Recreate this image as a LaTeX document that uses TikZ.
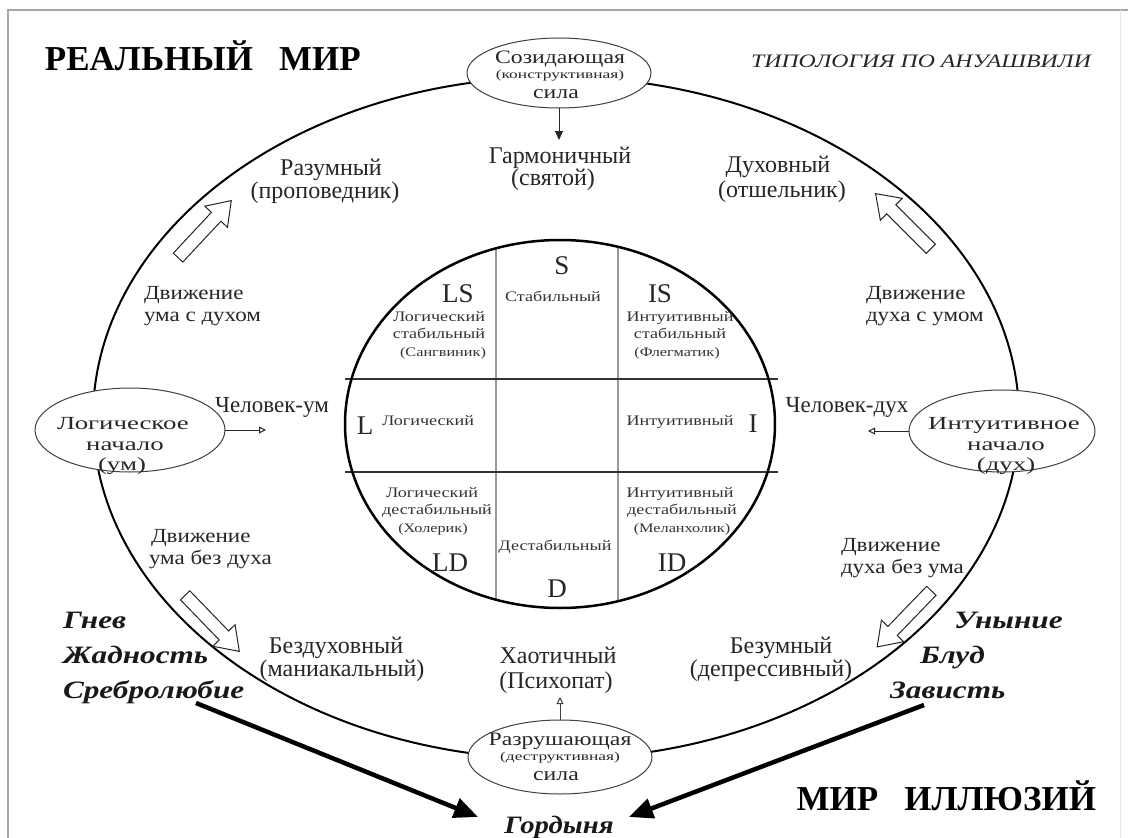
\documentclass[tikz,border=0pt]{standalone}
\usepackage{fontspec}
\setmainfont{Liberation Serif}
\newfontfamily\wa[FakeStretch=1.15]{Liberation Serif}
\newfontfamily\wb[FakeStretch=1.25]{Liberation Serif}
\newfontfamily\wc[FakeStretch=1.45]{Liberation Serif}
\usetikzlibrary{shapes.geometric,shapes.arrows,arrows.meta}
\newcommand\fsz[1]{\fontsize{#1}{#1}\selectfont}
\begin{document}
\begin{tikzpicture}[x=1pt,y=-1pt,
  every node/.style={inner sep=0pt, outer sep=0pt},
  lbl/.style={anchor=base, font=\fsz{24}, text=black!85},
  lblw/.style={anchor=base west, font=\wa\fsz{20}, text=black!85},
  elltxt/.style={anchor=base, font=\wc\fsz{18.5}, text=black!85},
  ellbig/.style={anchor=base, font=\wb\fsz{19}, text=black!85},
  ellsmall/.style={anchor=base, font=\wc\fsz{12}, text=black!85},
  letter/.style={anchor=base, font=\fsz{27}, text=black!85},
  small/.style={anchor=base, font=\wb\fsz{14.5}, text=black!80},
  tiny/.style={anchor=base, font=\wb\fsz{13}, text=black!80},
  sin/.style={anchor=base west, font=\wb\bfseries\itshape\fsz{25}, text=black!90},
  title/.style={font=\bfseries\fsz{35}, text=black},
  smallell/.style={ellipse, draw=black!75, line width=1pt, fill=white},
  blockarrow/.style={single arrow, draw=black!85, fill=white, line width=1pt,
    minimum height=78pt, inner sep=6pt, single arrow head extend=9pt,
    single arrow tip angle=70},
  thickarrow/.style={line width=4.5pt, -{Triangle[length=24pt,width=20pt]}},
  thinopen/.style={line width=1pt, -{Triangle[open,length=7pt,width=7pt]}},
  thinfill/.style={line width=1pt, -{Triangle[length=9pt,width=8pt]}}
]
\useasboundingbox (0,0) rectangle (1128,838);
\fill[white] (0,0) rectangle (1128,838);
% frame
\draw[gray!70, line width=2.2pt] (8,838) -- (8,10) -- (1128,10);
\draw[gray!20, line width=1pt] (1120,10) -- (1120,838);

% outer ellipse
\node[draw, ellipse, line width=2pt, minimum width=926pt, minimum height=682pt] (outer) at (556,418) {};

% small ellipses
\node[smallell, minimum width=184pt, minimum height=70pt] (top) at (559,73) {};
\node[smallell, minimum width=184pt, minimum height=74pt] (bot) at (560,757) {};
\node[smallell, minimum width=190pt, minimum height=84pt] (logic) at (130,430) {};
\node[smallell, minimum width=186pt, minimum height=82pt] (intu) at (1002,431) {};

% inner ellipse and grid
\begin{scope}
\clip (560,424) ellipse [x radius=215pt, y radius=184pt];
\draw[gray!80, line width=1.2pt] (496,230) -- (496,620) (618,230) -- (618,620);
\end{scope}
\draw[black!80, line width=1.8pt] (345,379) -- (778,379) (345,472) -- (778,472);
\node[draw, ellipse, line width=2.5pt, minimum width=430pt, minimum height=368pt] (inner) at (560,424) {};

% titles
\node[title, anchor=base west] (real) at (45,70) {РЕАЛЬНЫЙ\hspace{26pt}МИР};
\node[title, anchor=base east] (illus) at (1096,810) {МИР\hspace{26pt}ИЛЛЮЗИЙ};
\node[anchor=base east, font=\wb\itshape\fsz{19}, text=black!85] (typ) at (1091,67) {ТИПОЛОГИЯ ПО АНУАШВИЛИ};

% ellipse texts
\node[ellbig] (top1) at (560,63) {Созидающая};
\node[ellsmall] (top2) at (560,78) {(конструктивная)};
\node[ellbig] (top3) at (556,98) {сила};
\node[ellbig] (bot1) at (560,745) {Разрушающая};
\node[ellsmall] (bot2) at (560,760) {(деструктивная)};
\node[ellbig] (bot3) at (556,780) {сила};
\node[elltxt] (lo1) at (123,429.5) {Логическое};
\node[elltxt] (lo2) at (125,450) {начало};
\node[elltxt] (lo3) at (122,470.5) {(ум)};
\node[elltxt] (in1) at (1004,429.5) {Интуитивное};
\node[elltxt] (in2) at (1006,450) {начало};
\node[elltxt] (in3) at (1006,470.5) {(дух)};

% type labels
\node[lbl] (harm1) at (560,163) {Гармоничный};
\node[lbl] (harm2) at (553,185) {(святой)};
\node[lbl] (raz1) at (331,175) {Разумный};
\node[lbl] (raz2) at (325,198) {(проповедник)};
\node[lbl] (duh1) at (778,172) {Духовный};
\node[lbl] (duh2) at (782,197) {(отшельник)};
\node[lbl] (bez1) at (336,653) {Бездуховный};
\node[lbl] (bez2) at (342,676) {(маниакальный)};
\node[lbl] (hao1) at (558,663) {Хаотичный};
\node[lbl] (hao2) at (556,688) {(Психопат)};
\node[lbl] (bum1) at (781,653) {Безумный};
\node[lbl] (bum2) at (771,676) {(депрессивный)};

% movement labels
\node[lblw] (mv1a) at (144,299) {Движение};
\node[lblw] (mv1b) at (144,321) {ума с духом};
\node[lblw] (mv2a) at (866,299) {Движение};
\node[lblw] (mv2b) at (866,321) {духа с умом};
\node[lblw] (mv3a) at (151,542) {Движение};
\node[lblw] (mv3b) at (149,564) {ума без духа};
\node[lblw] (mv4a) at (841,551) {Движение};
\node[lblw] (mv4b) at (841,573) {духа без ума};

\node[lbl, font=\fsz{23}] (chum) at (272,412) {Человек-ум};
\node[lbl, font=\fsz{23}] (chduh) at (847,412) {Человек-дух};

% inner labels
\node[letter] (lS) at (562,274) {S};
\node[letter] (lLS) at (458,302) {LS};
\node[letter] (lIS) at (660,302) {IS};
\node[letter] (lL) at (365,434) {L};
\node[letter] (lI) at (753,432) {I};
\node[letter] (lLD) at (450,571) {LD};
\node[letter] (lID) at (672,571) {ID};
\node[letter] (lD) at (557,597) {D};

\node[small] (stab) at (553,301) {Стабильный};
\node[small] (logc) at (428,425) {Логический};
\node[small] (intc) at (680,425) {Интуитивный};
\node[small] (dest) at (555,550) {Дестабильный};

\node[small] (ls1) at (439,321) {Логический};
\node[small] (ls2) at (439,338) {стабильный};
\node[tiny] (ls3) at (443,356) {(Сангвиник)};
\node[small] (is1) at (680,321) {Интуитивный};
\node[small] (is2) at (680,338) {стабильный};
\node[tiny] (is3) at (677,356) {(Флегматик)};
\node[small] (ld1) at (432,497) {Логический};
\node[small] (ld2) at (437,514) {дестабильный};
\node[tiny] (ld3) at (433,532) {(Холерик)};
\node[small] (id1) at (680,497) {Интуитивный};
\node[small] (id2) at (682,514) {дестабильный};
\node[tiny] (id3) at (682,532) {(Меланхолик)};

% sins
\node[sin] (s1) at (63,628) {Гнев};
\node[sin] (s2) at (63,663) {Жадность};
\node[sin] (s3) at (63,698) {Сребролюбие};
\node[sin] (s4) at (954,628) {Уныние};
\node[sin] (s5) at (920,663) {Блуд};
\node[sin] (s6) at (890,698) {Зависть};
\node[anchor=base, font=\wa\bfseries\itshape\fsz{25}, text=black!90] (pride) at (559,833) {Гордыня};

% hollow block arrows
\node[blockarrow, rotate=47] (ha1) at (201.5,232.5) {};
\node[blockarrow, rotate=135] (ha2) at (906.5,224.5) {};
\node[blockarrow, rotate=-46] (ha3) at (209,620) {};
\node[blockarrow, rotate=-134] (ha4) at (907.5,615.5) {};

% small connectors
\coordinate (toptip) at (559,140);
\coordinate (umtip) at (266,430);
\coordinate (duhtip) at (868,431);
\coordinate (bottip) at (560,697);
\draw[thinfill, black!85] (top.south) -- (toptip);
\draw[thinopen, black!85] (logic.east) -- (umtip);
\draw[thinopen, black!85] (intu.west) -- (duhtip);
\draw[thinopen, black!75] (bot.north) -- (bottip);

% thick arrows to pride
\coordinate (sinL) at (196,703);
\coordinate (prideL) at (478,817);
\coordinate (sinR) at (924,705);
\coordinate (prideR) at (629,817);
\draw[thickarrow] (sinL) -- (prideL);
\draw[thickarrow] (sinR) -- (prideR);
\end{tikzpicture}
\end{document}
